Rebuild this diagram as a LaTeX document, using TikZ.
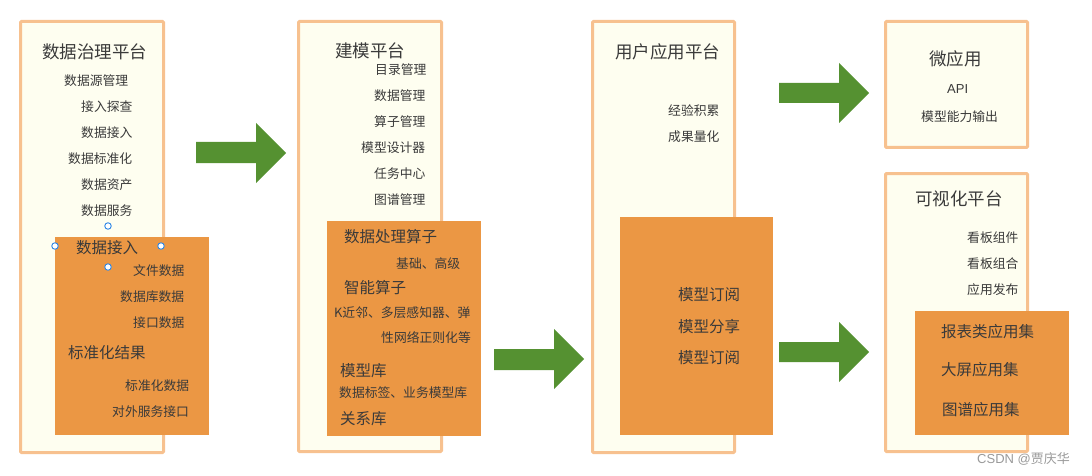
\documentclass[tikz,border=0pt]{standalone}
\usepackage{fontspec}
\setmainfont{Noto Sans CJK SC}
\newfontfamily\latinsans{Liberation Sans}
\definecolor{boxfill}{HTML}{FEFEF0}
\definecolor{boxline}{HTML}{F7C18F}
\definecolor{panelfill}{HTML}{EB9744}
\definecolor{arrowgreen}{HTML}{559131}
\definecolor{txt}{HTML}{3A3A3A}
\definecolor{handleblue}{HTML}{2E86E6}
\tikzset{
  platform/.style={draw=boxline, fill=boxfill, line width=3pt, rounded corners=1pt},
  panel/.style={fill=panelfill},
  bigarrow/.style={fill=arrowgreen},
  title/.style={anchor=west, inner sep=0pt, text=txt, font=\fontsize{17.5}{20}\selectfont},
  head/.style={anchor=west, inner sep=0pt, text=txt, font=\fontsize{15.5}{18}\selectfont},
  item/.style={anchor=west, inner sep=0pt, text=txt, font=\fontsize{12.8}{15}\selectfont},
  handle/.style={circle, draw=handleblue, fill=white, line width=0.9pt, inner sep=0pt, minimum size=6.5pt},
  watermark/.style={anchor=west, inner sep=0pt, text=black!40, font=\fontsize{13}{15}\selectfont}
}
\begin{document}
\begin{tikzpicture}[x=1pt,y=-1pt]
\useasboundingbox (0,0) rectangle (1092,476);

% ---------- platforms ----------
\draw[platform] (20.5,21.5) rectangle (163.5,452.5);
\draw[platform] (298.5,21.5) rectangle (441.5,451.5);
\draw[platform] (592.5,21.5) rectangle (734.5,452.5);
\draw[platform] (885.5,21.5) rectangle (1027.5,147.5);
\draw[platform] (885.5,173.5) rectangle (1027.5,451.5);

% ---------- orange panels ----------
\fill[panel] (55,237) rectangle (209,435);
\fill[panel] (327,221) rectangle (481,436);
\fill[panel] (620,217) rectangle (773,435);
\fill[panel] (915,311) rectangle (1069,435);

% ---------- arrows ----------
\fill[bigarrow] (196,142) -- (256,142) -- (256,123) -- (286,153) -- (256,183) -- (256,163) -- (196,163) -- cycle;
\fill[bigarrow] (494,349) -- (554,349) -- (554,329) -- (584,359) -- (554,389) -- (554,370) -- (494,370) -- cycle;
\fill[bigarrow] (779,83) -- (839,83) -- (839,63) -- (869,93) -- (839,123) -- (839,103) -- (779,103) -- cycle;
\fill[bigarrow] (779,342) -- (839,342) -- (839,322) -- (869,352) -- (839,382) -- (839,362) -- (779,362) -- cycle;

% ---------- platform 1 ----------
\node[title] (p1) at (42,52) {数据治理平台};
\node[item] (p1a) at (64,81) {数据源管理};
\node[item] (p1b) at (81,107) {接入探查};
\node[item] (p1c) at (81,133) {数据接入};
\node[item] (p1d) at (68,159) {数据标准化};
\node[item] (p1e) at (81,185) {数据资产};
\node[item] (p1f) at (81,211) {数据服务};
\node[head] (o1a) at (76,248) {数据接入};
\node[item] (o1b) at (133,271) {文件数据};
\node[item] (o1c) at (120,297) {数据库数据};
\node[item] (o1d) at (133,323) {接口数据};
\node[head] (o1e) at (68,353) {标准化结果};
\node[item] (o1f) at (125,386) {标准化数据};
\node[item] (o1g) at (112,412) {对外服务接口};
\node[handle] (h1) at (108,226) {};
\node[handle] (h2) at (55,246) {};
\node[handle] (h3) at (161,246) {};
\node[handle] (h4) at (108,267) {};

% ---------- platform 2 ----------
\node[title] (p2) at (335,51) {建模平台};
\node[item] (p2a) at (375,70) {目录管理};
\node[item] (p2b) at (374,96) {数据管理};
\node[item] (p2c) at (374,122) {算子管理};
\node[item] (p2d) at (361,148) {模型设计器};
\node[item] (p2e) at (374,174) {任务中心};
\node[item] (p2f) at (374,200) {图谱管理};
\node[head] (o2a) at (344,237) {数据处理算子};
\node[item] (o2b) at (396,264) {基础、高级};
\node[head] (o2c) at (344,288) {智能算子};
\node[item] (o2d) at (334,313) {K近邻、多层感知器、弹};
\node[item] (o2e) at (381,338) {性网络正则化等};
\node[head] (o2f) at (340,371) {模型库};
\node[item] (o2g) at (339,393) {数据标签、业务模型库};
\node[head] (o2h) at (340,419) {关系库};

% ---------- platform 3 ----------
\node[title] (p3) at (615,52) {用户应用平台};
\node[item] (p3a) at (668,111) {经验积累};
\node[item] (p3b) at (668,137) {成果量化};
\node[head] (o3a) at (678,295) {模型订阅};
\node[head] (o3b) at (678,327) {模型分享};
\node[head] (o3c) at (678,358) {模型订阅};

% ---------- micro apps ----------
\node[title] (p4) at (929,59) {微应用};
\node[item, font=\latinsans\fontsize{13}{15}\selectfont] (p4a) at (947,89) {API};
\node[item] (p4b) at (921,117) {模型能力输出};

% ---------- visualization ----------
\node[title] (p5) at (915,199) {可视化平台};
\node[item] (p5a) at (967,238) {看板组件};
\node[item] (p5b) at (967,264) {看板组合};
\node[item] (p5c) at (967,290) {应用发布};
\node[head] (o5a) at (941,332) {报表类应用集};
\node[head] (o5b) at (941,370) {大屏应用集};
\node[head] (o5c) at (942,410) {图谱应用集};

% ---------- watermark ----------
\node[watermark] (wm) at (977,459) {{\latinsans CSDN @}贾庆华};
\end{tikzpicture}
\end{document}
